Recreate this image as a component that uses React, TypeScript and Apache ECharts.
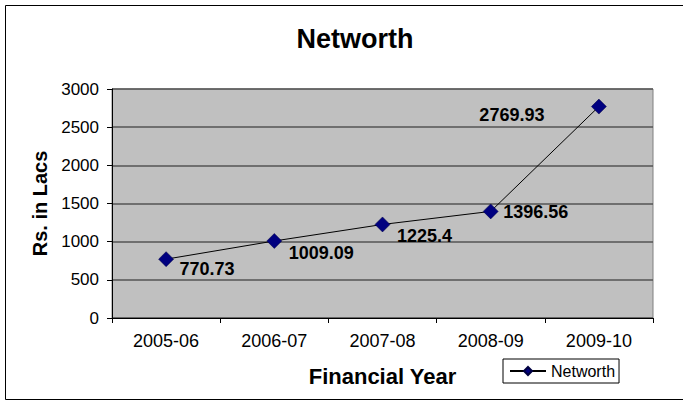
import React, { useEffect, useRef } from "react";
import * as echarts from "echarts";

const categories = ["2005-06", "2006-07", "2007-08", "2008-09", "2009-10"];
const networth = [770.73, 1009.09, 1225.4, 1396.56, 2769.93];
const labelOffsets: [number, number][] = [
  [41, 10],
  [47, 12],
  [42, 12],
  [45, 1],
  [-87, 8],
];

export default function App() {
  const ref = useRef<HTMLDivElement>(null);
  useEffect(() => {
    if (!ref.current) return;
    const chart = echarts.init(ref.current, undefined, { renderer: "svg" });
    const font = "Arial, 'Liberation Sans', sans-serif";
    chart.setOption({
      animation: false,
      backgroundColor: "#ffffff",
      textStyle: { fontFamily: font },
      title: {
        text: "Networth",
        left: 350,
        top: 20,
        textAlign: "center",
        textStyle: { fontSize: 27, fontWeight: "bold", color: "#000", fontFamily: font },
      },
      graphic: [
        {
          type: "rect",
          shape: { x: 5.5, y: 5.5, width: 740, height: 394 },
          style: { fill: "none", stroke: "#000", lineWidth: 1 },
          silent: true,
          z: -1,
        },
      ],
      legend: {
        data: ["Networth"],
        left: 503,
        top: 359,
        orient: "horizontal",
        itemWidth: 36,
        itemHeight: 10,
        itemGap: 4,
        padding: [4, 4, 4, 6],
        borderColor: "#000",
        borderWidth: 1,
        borderRadius: 0,
        backgroundColor: "#fff",
        textStyle: { fontSize: 16, color: "#000", fontFamily: font },
      },
      grid: {
        left: 112,
        top: 89,
        right: 30,
        bottom: 83,
        show: true,
        backgroundColor: "#C0C0C0",
        borderColor: "#808080",
        borderWidth: 1,
      },
      xAxis: {
        type: "category",
        data: categories,
        boundaryGap: true,
        name: "Financial Year",
        nameLocation: "middle",
        nameGap: 47,
        nameTextStyle: { fontSize: 22, fontWeight: "bold", color: "#000", fontFamily: font },
        axisLine: { lineStyle: { color: "#000", width: 1 } },
        axisTick: { show: true, length: 5, lineStyle: { color: "#000" } },
        axisLabel: { fontSize: 18, color: "#000", margin: 14, fontFamily: font },
      },
      yAxis: {
        type: "value",
        min: 0,
        max: 3000,
        interval: 500,
        name: "Rs. in Lacs",
        nameLocation: "middle",
        nameGap: 60,
        nameRotate: 90,
        nameTextStyle: { fontSize: 20, fontWeight: "bold", color: "#000", fontFamily: font },
        axisLine: { show: true, lineStyle: { color: "#000", width: 1 } },
        axisTick: { show: true, length: 5, lineStyle: { color: "#000" } },
        axisLabel: {
          fontSize: 17,
          color: "#000",
          margin: 13,
          fontFamily: font,
          formatter: (v: number) => String(v),
        },
        splitLine: { show: true, lineStyle: { color: "#555555", width: 1.5 } },
      },
      series: [
        {
          name: "Networth",
          type: "line",
          data: networth.map((v, i) => ({
            value: v,
            label: { offset: labelOffsets[i] },
          })),
          symbol: "diamond",
          symbolSize: 15,
          lineStyle: { color: "#000", width: 1 },
          itemStyle: { color: "#000080", borderColor: "#000040", borderWidth: 0.5 },
          label: {
            show: true,
            position: "inside",
            fontSize: 18,
            fontWeight: "bold",
            color: "#000",
            fontFamily: font,
            formatter: (p: any) => String(p.value),
          },
        },
      ],
    });
    return () => chart.dispose();
  }, []);
  return (
    <div
      ref={ref}
      style={{ position: "fixed", left: 0, top: 0, width: 683, height: 401 }}
    />
  );
}
